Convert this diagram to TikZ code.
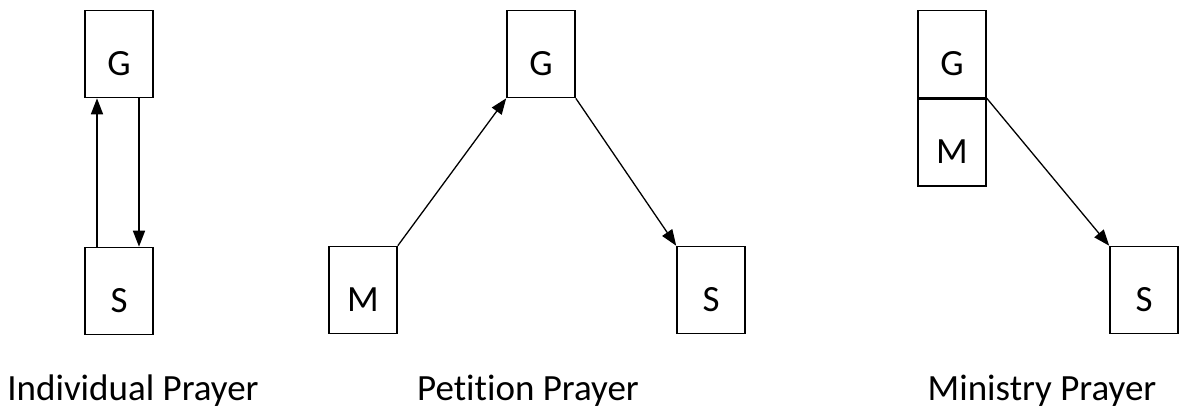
\documentclass[tikz,border=0pt]{standalone}
\usepackage{fontspec}
\setmainfont{Carlito}[Ligatures=NoCommon]
\usetikzlibrary{arrows.meta,positioning}

\tikzset{
  box/.style={draw, line width=1.6pt, minimum width=68pt, minimum height=87pt,
    inner sep=0pt, text height=42pt, text depth=0pt},
  flow/.style={-{Triangle[length=16pt,width=12pt]}, line width=1.3pt},
  caption/.style={anchor=base}
}

\begin{document}
\begin{tikzpicture}[x=1pt,y=-1pt,font=\fontsize{37}{44}\selectfont]
    \useasboundingbox (0,0) rectangle (1184,410);

    % Individual Prayer
    \node[box] (g1) at (119,54) {G};
    \node[box] (s1) at (119,291) {S};
    \draw[flow, line width=1.6pt] ([xshift=-22pt]s1.north) -- ([xshift=-22pt]g1.south);
    \draw[flow, line width=1.6pt] ([xshift=20pt]g1.south) -- ([xshift=20pt]s1.north);
    \node[caption] (c1) at (133,400) {Individual Prayer};

    % Petition Prayer
    \node[box] (g2) at (541,54) {G};
    \node[box] (m2) at (363,290) {M};
    \node[box] (s2) at (711,290) {S};
    \draw[flow] (m2.north east) -- (g2.south west);
    \draw[flow] (g2.south east) -- (s2.north west);
    \node[caption] (c2) at (528,400) {Petition Prayer};

    % Ministry Prayer
    \node[box] (g3) at (952,54) {G};
    \node[box, below=0pt of g3] (m3) {M};
    \node[box] (s3) at (1144,290) {S};
    \draw[flow] (g3.south east) -- (s3.north west);
    \node[caption] (c3) at (1042,400) {Ministry Prayer};
\end{tikzpicture}
\end{document}
